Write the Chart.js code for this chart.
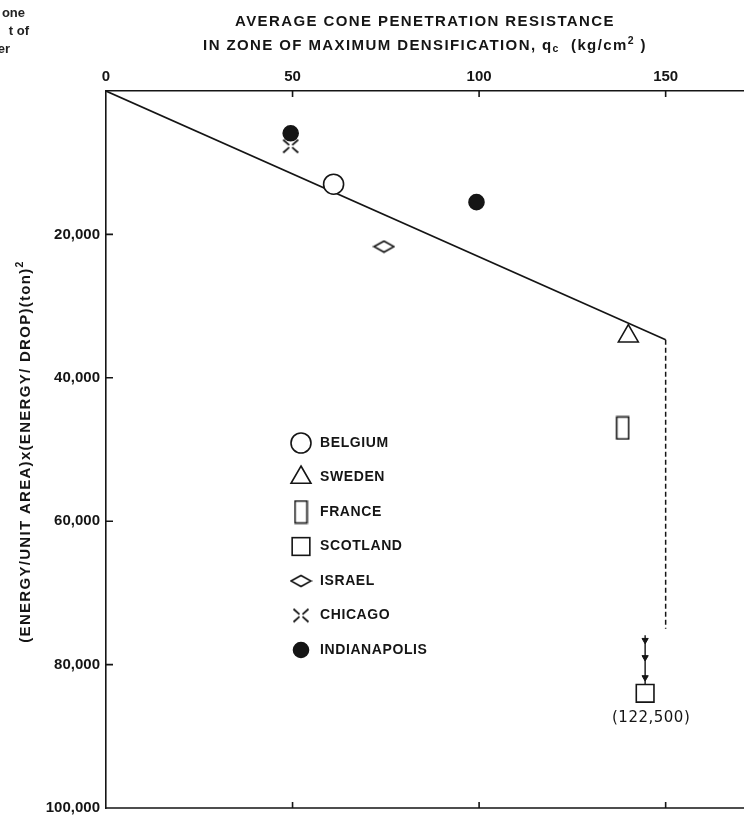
<!DOCTYPE html>
<html>
<head>
<meta charset="utf-8">
<script src="https://cdn.jsdelivr.net/npm/chart.js@4.4.1/dist/chart.umd.min.js"></script>
<style>
    body { margin: 0; background: #fff; }
    #wrap { position: relative; width: 744px; height: 815px; overflow: hidden; }
    .frag { position: absolute; font: bold 13px 'Liberation Sans', sans-serif; color: #222; text-align: right; white-space: nowrap; }
</style>
</head>
<body>
<div id="wrap">
    <canvas id="graficoCone" width="744" height="815"></canvas>
    <div class="frag" style="right:719px; top:5px">one</div>
    <div class="frag" style="right:715px; top:23px">t of</div>
    <div class="frag" style="right:734px; top:41px">er</div>
</div>
<script>
// sites and their values
const sites = ['BELGIUM', 'SWEDEN', 'FRANCE', 'SCOTLAND', 'ISRAEL', 'CHICAGO', 'INDIANAPOLIS'];
const siteQc = [[61], [140], [138.5], [144.5], [74.5], [49.5], [49.5, 99.3]];
const siteEnergy = [[13000], [34200], [47000], [84000], [21700], [7700], [5900, 15500]];

// trend line and its dashed cut-off
const trendQc = [0, 150];
const trendEnergy = [0, 34700];
const limitQc = [150, 150];
const limitEnergy = [34700, 75000];

// off-scale arrow above Scotland (real value 122,500)
const arrowQc = [144.5, 144.5, 144.5, 144.5, 144.5];
const arrowEnergy = [75900, 76600, 79000, 81800, 82800];
const scotlandLabel = '(122,500)';

const xTicks = [0, 50, 100, 150];
const yTicks = [0, 20000, 40000, 60000, 80000, 100000];

const ink = '#151515';

function makeSymbol(w, h, draw) {
    var c = document.createElement('canvas');
    c.width = w;
    c.height = h;
    var g = c.getContext('2d');
    g.strokeStyle = ink;
    g.fillStyle = '#fff';
    g.lineWidth = 1.6;
    draw(g, w, h);
    return c;
}

var franceSymbol = makeSymbol(15, 25, function (g) {
    g.fillRect(1.5, 1.5, 12, 22);
    g.strokeRect(1.5, 1.5, 12, 22);
});

var israelSymbol = makeSymbol(23, 14, function (g) {
    g.beginPath();
    g.moveTo(1.5, 7);
    g.lineTo(11.5, 1.5);
    g.lineTo(21.5, 7);
    g.lineTo(11.5, 12.5);
    g.closePath();
    g.fill();
    g.stroke();
});

var chicagoSymbol = makeSymbol(18, 16, function (g) {
    g.lineWidth = 1.8;
    g.beginPath();
    g.moveTo(1.5, 1.5); g.lineTo(7.5, 6.8);
    g.moveTo(16.5, 1.5); g.lineTo(10.5, 6.8);
    g.moveTo(1.5, 14.5); g.lineTo(7.5, 9.2);
    g.moveTo(16.5, 14.5); g.lineTo(10.5, 9.2);
    g.stroke();
});

// style of each site, same order as sites
const siteStyles = [
    { pointStyle: 'circle', radius: 10, fill: '#fff' },
    { pointStyle: 'triangle', radius: 11.5, fill: '#fff' },
    { pointStyle: franceSymbol, radius: 10, fill: '#fff' },
    { pointStyle: 'rect', radius: 12.5, fill: '#fff' },
    { pointStyle: israelSymbol, radius: 10, fill: '#fff' },
    { pointStyle: chicagoSymbol, radius: 10, fill: '#fff' },
    { pointStyle: 'circle', radius: 7.5, fill: ink }
];

function pairs(xs, ys) {
    return xs.map((v, i) => ({ x: v, y: ys[i] }));
}

var datasets = sites.map(function (nome, i) {
    return {
        label: nome,
        data: pairs(siteQc[i], siteEnergy[i]),
        pointStyle: siteStyles[i].pointStyle,
        pointRadius: siteStyles[i].radius,
        pointBackgroundColor: siteStyles[i].fill,
        pointBorderColor: ink,
        pointBorderWidth: 1.6
    };
});

datasets.push({
    label: 'arrow',
    data: pairs(arrowQc, arrowEnergy),
    showLine: true,
    borderColor: ink,
    borderWidth: 1.4,
    pointStyle: 'triangle',
    rotation: 180,
    pointRadius: [0, 3.6, 3.6, 3.6, 0],
    pointBackgroundColor: ink,
    pointBorderColor: ink,
    pointBorderWidth: 1
});

datasets.push({
    label: 'trend',
    data: pairs(trendQc, trendEnergy),
    showLine: true,
    borderColor: ink,
    borderWidth: 1.6,
    pointRadius: 0
});

datasets.push({
    label: 'limit',
    data: pairs(limitQc, limitEnergy),
    showLine: true,
    borderColor: ink,
    borderWidth: 1.5,
    borderDash: [5, 3],
    pointRadius: 0
});

function drawSymbol(ctx, st, x, y) {
    var r = st.radius;
    ctx.save();
    ctx.strokeStyle = ink;
    ctx.fillStyle = st.fill;
    ctx.lineWidth = 1.6;
    if (typeof st.pointStyle !== 'string') {
        ctx.drawImage(st.pointStyle, x - st.pointStyle.width / 2, y - st.pointStyle.height / 2);
    } else if (st.pointStyle === 'circle') {
        ctx.beginPath();
        ctx.arc(x, y, r, 0, Math.PI * 2);
        ctx.fill();
        ctx.stroke();
    } else if (st.pointStyle === 'triangle') {
        ctx.beginPath();
        ctx.moveTo(x, y - r);
        ctx.lineTo(x + r * Math.sin(2 * Math.PI / 3), y - r * Math.cos(2 * Math.PI / 3));
        ctx.lineTo(x + r * Math.sin(4 * Math.PI / 3), y - r * Math.cos(4 * Math.PI / 3));
        ctx.closePath();
        ctx.fill();
        ctx.stroke();
    } else if (st.pointStyle === 'rect') {
        var s = r * Math.SQRT1_2;
        ctx.fillRect(x - s, y - s, 2 * s, 2 * s);
        ctx.strokeRect(x - s, y - s, 2 * s, 2 * s);
    }
    ctx.restore();
}

// draws text in pieces so q_c and cm^2 get their small letters
function drawPieces(ctx, pieces, cx, cy, size) {
    var total = 0;
    pieces.forEach(function (p) {
        ctx.font = 'bold ' + (p.small ? size * 0.7 : size) + "px 'Liberation Sans', sans-serif";
        p.w = ctx.measureText(p.t).width;
        total += p.w;
    });
    var x = cx - total / 2;
    pieces.forEach(function (p) {
        ctx.font = 'bold ' + (p.small ? size * 0.7 : size) + "px 'Liberation Sans', sans-serif";
        ctx.fillText(p.t, x, cy + (p.small || 0));
        x += p.w;
    });
}

const figurePlugin = {
    id: 'figure',
    afterDraw(chart) {
        var ctx = chart.ctx;
        var a = chart.chartArea;
        var xs = chart.scales.x;
        var ys = chart.scales.y;

        ctx.save();
        ctx.strokeStyle = ink;
        ctx.lineWidth = 1.6;
        ctx.beginPath();
        // bottom frame line
        ctx.moveTo(a.left, a.bottom);
        ctx.lineTo(a.right, a.bottom);
        // inward tick marks
        xTicks.forEach(function (v) {
            if (v === 0) return;
            var px = xs.getPixelForValue(v);
            ctx.moveTo(px, a.top);
            ctx.lineTo(px, a.top + 6);
            ctx.moveTo(px, a.bottom);
            ctx.lineTo(px, a.bottom - 6);
        });
        yTicks.forEach(function (v) {
            if (v === 0 || v === 100000) return;
            var py = ys.getPixelForValue(v);
            ctx.moveTo(a.left, py);
            ctx.lineTo(a.left + 7, py);
        });
        ctx.stroke();

        ctx.fillStyle = ink;
        ctx.textBaseline = 'middle';
        ctx.textAlign = 'left';
        ctx.letterSpacing = '1.4px';

        // top axis title
        var cx = (a.left + a.right) / 2;
        drawPieces(ctx, [{ t: 'AVERAGE CONE PENETRATION RESISTANCE' }], cx, 22, 15);
        drawPieces(ctx, [
            { t: 'IN ZONE OF MAXIMUM DENSIFICATION, q' },
            { t: 'c', small: 3 },
            { t: '  (kg/cm' },
            { t: '2', small: -5 },
            { t: ' )' }
        ], cx, 46, 15);

        // left axis title
        ctx.save();
        ctx.translate(26, (a.top + a.bottom) / 2 + 2);
        ctx.rotate(-Math.PI / 2);
        ctx.letterSpacing = '1.3px';
        drawPieces(ctx, [
            { t: '(ENERGY/UNIT AREA)x(ENERGY/ DROP)(ton)' },
            { t: '2', small: -6 }
        ], 0, 0, 15);
        ctx.restore();

        // legend
        ctx.letterSpacing = '0.6px';
        sites.forEach(function (nome, i) {
            var rowY = a.top + 352 + i * 34.5;
            drawSymbol(ctx, siteStyles[i], a.left + 195, rowY);
            ctx.fillStyle = ink;
            ctx.font = "bold 14px 'Liberation Sans', sans-serif";
            ctx.fillText(nome, a.left + 214, rowY);
        });

        // real value of the Scotland point
        var sx = xs.getPixelForValue(siteQc[3][0]);
        var sy = ys.getPixelForValue(siteEnergy[3][0]);
        ctx.letterSpacing = '0.5px';
        ctx.textAlign = 'center';
        ctx.font = "15px 'DejaVu Sans', sans-serif";
        ctx.fillText(scotlandLabel, sx + 6, sy + 25);
        ctx.restore();
    }
};

new Chart(document.getElementById('graficoCone'), {
    type: 'scatter',
    data: { datasets: datasets },
    options: {
        responsive: false,
        animation: false,
        events: [],
        layout: { autoPadding: false, padding: { top: 0, left: 0, right: 0, bottom: 7 } },
        plugins: {
            legend: { display: false },
            tooltip: { enabled: false }
        },
        scales: {
            x: {
                type: 'linear',
                position: 'top',
                min: 0,
                max: 171,
                afterBuildTicks: function (scale) {
                    scale.ticks = xTicks.map(v => ({ value: v }));
                },
                afterFit: function (scale) {
                    scale.height = 91;
                    scale.paddingLeft = 0;
                    scale.paddingRight = 0;
                },
                grid: { drawOnChartArea: false, drawTicks: false },
                border: { display: true, color: ink, width: 1.6 },
                ticks: {
                    padding: 5,
                    color: ink,
                    font: { family: 'Liberation Sans', weight: 'bold', size: 15 }
                }
            },
            y: {
                type: 'linear',
                reverse: true,
                min: 0,
                max: 100000,
                afterBuildTicks: function (scale) {
                    scale.ticks = yTicks.map(v => ({ value: v }));
                },
                afterFit: function (scale) {
                    scale.width = 106;
                    scale.paddingTop = 0;
                    scale.paddingBottom = 0;
                },
                grid: { drawOnChartArea: false, drawTicks: false },
                border: { display: true, color: ink, width: 1.6 },
                ticks: {
                    padding: 6,
                    color: ink,
                    font: { family: 'Liberation Sans', weight: 'bold', size: 15 },
                    callback: function (v) {
                        return v === 0 ? '' : v.toLocaleString('en-US');
                    }
                }
            }
        }
    },
    plugins: [figurePlugin]
});
</script>
</body>
</html>
